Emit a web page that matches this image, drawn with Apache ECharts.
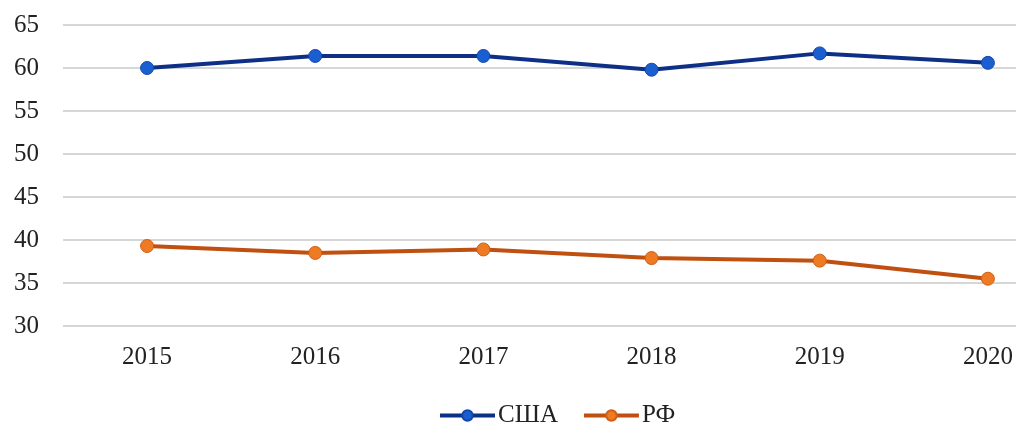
<!DOCTYPE html>
<html>
<head>
<meta charset="utf-8">
<script src="https://cdn.jsdelivr.net/npm/echarts@6/dist/echarts.min.js"></script>
<style>
  html, body { margin: 0; padding: 0; background: #fff; overflow: hidden; }
  #abc { width: 1072px; height: 423px; }
</style>
</head>
<body>
<div id="abc"></div>
<script>
let years = ['2015', '2016', '2017', '2018', '2019', '2020']
let usa = [60.0, 61.4, 61.4, 59.8, 61.7, 60.6]
let rf = [39.3, 38.5, 38.9, 37.9, 37.6, 35.5]

let myChart = echarts.init(document.getElementById('abc'))

let font = '"Liberation Serif", "Times New Roman", serif'

let option = {
    animation: false,
    textStyle: { fontFamily: font },
    legend: {
        top: 398,
        left: 433,
        itemWidth: 55,
        itemHeight: 13,
        itemGap: 24,
        lineStyle: { width: 4 },
        textStyle: { fontFamily: font, fontSize: 25, color: '#222', padding: [0, 0, 0, -2] },
        data: ['США', 'РФ']
    },
    grid: {
        left: 63,
        right: 0,
        top: 25,
        height: 301
    },
    xAxis: {
        type: 'category',
        data: years,
        boundaryGap: true,
        axisLine: { show: false },
        axisTick: { show: false },
        axisLabel: { fontFamily: font, fontSize: 25, color: '#222', margin: 19 }
    },
    yAxis: {
        type: 'value',
        min: 30,
        max: 65,
        interval: 5,
        axisLine: { show: false },
        axisTick: { show: false },
        axisLabel: { fontFamily: font, fontSize: 25, color: '#222', margin: 24 },
        splitLine: { lineStyle: { color: '#c8c8c8', width: 1.5 } }
    },
    series: [
        {
            name: 'США',
            type: 'line',
            data: usa,
            symbol: 'circle',
            symbolSize: 13,
            lineStyle: { color: '#0d2f86', width: 4 },
            itemStyle: { color: '#1a5fd2', borderColor: '#1746a8', borderWidth: 1 }
        },
        {
            name: 'РФ',
            type: 'line',
            data: rf,
            symbol: 'circle',
            symbolSize: 13,
            lineStyle: { color: '#c0500f', width: 4 },
            itemStyle: { color: '#ee7a24', borderColor: '#cf5f15', borderWidth: 1 }
        }
    ]
}

myChart.setOption(option)
</script>
</body>
</html>
